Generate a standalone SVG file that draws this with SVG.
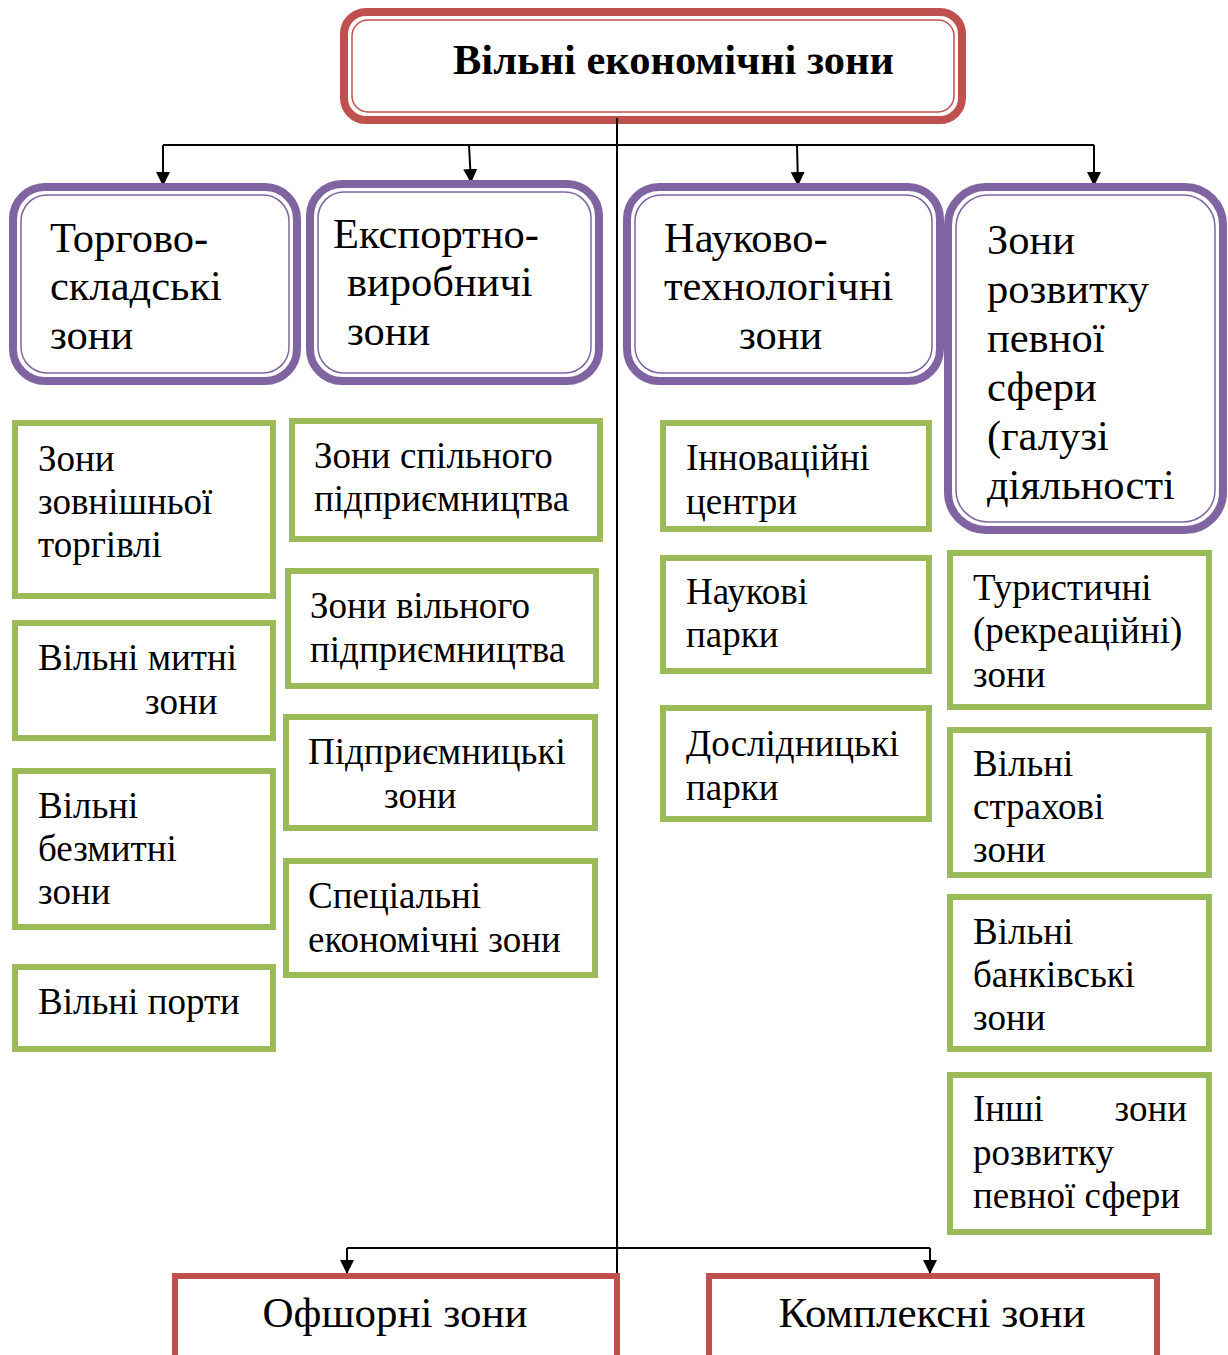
<svg xmlns="http://www.w3.org/2000/svg" width="1228" height="1355" viewBox="0 0 1228 1355">
  <style>
    text { font-family: "Liberation Serif", "Times New Roman", serif; fill: #000; }
    .title { font-size: 42.5px; font-weight: bold; }
    .cat { font-size: 42.5px; }
    .item { font-size: 37px; }
    .big { font-size: 43px; }
    .red-o { fill: #fff; stroke: #C0504D; stroke-width: 8; }
    .red-i { fill: none; stroke: #C0504D; stroke-width: 1.5; }
    .pur-o { fill: #fff; stroke: #8064A2; stroke-width: 8; }
    .pur-i { fill: none; stroke: #8064A2; stroke-width: 1.5; }
    .grn { fill: #fff; stroke: #9BBB59; stroke-width: 6; }
    .redbox { fill: #fff; stroke: #C0504D; stroke-width: 6; }
    .line { fill: none; stroke: #000; stroke-width: 2; }
  </style>
  <defs>
    <marker id="arrow" viewBox="0 0 10 10" refX="10" refY="5" markerWidth="14" markerHeight="14" markerUnits="userSpaceOnUse" orient="auto">
      <path d="M0,0 L10,5 L0,10 z" fill="#000"/>
    </marker>
  </defs>

  <rect width="1228" height="1355" fill="#fff"/>

  <!-- root -->
  <g id="root">
    <rect class="red-o" x="344" y="12" width="618" height="108" rx="22"/>
    <rect class="red-i" x="352" y="20" width="602" height="92" rx="16"/>
    <text class="title" x="453" y="74">Вільні економічні зони</text>
  </g>

  <!-- connectors -->
  <g id="connectors">
    <line class="line" x1="617" y1="118" x2="617" y2="1286"/>
    <line class="line" x1="163" y1="145" x2="1094" y2="145"/>
    <line class="line" x1="163" y1="145" x2="163" y2="186" marker-end="url(#arrow)"/>
    <line class="line" x1="469" y1="145" x2="471" y2="183" marker-end="url(#arrow)"/>
    <line class="line" x1="797" y1="145" x2="798" y2="186" marker-end="url(#arrow)"/>
    <line class="line" x1="1094" y1="145" x2="1094" y2="186" marker-end="url(#arrow)"/>
    <line class="line" x1="347" y1="1248" x2="930" y2="1248"/>
    <line class="line" x1="347" y1="1248" x2="347" y2="1274" marker-end="url(#arrow)"/>
    <line class="line" x1="930" y1="1248" x2="930" y2="1274" marker-end="url(#arrow)"/>
  </g>

  <!-- categories -->
  <g id="trade">
    <rect class="pur-o" x="13" y="187" width="284" height="194" rx="32"/>
    <rect class="pur-i" x="21" y="195" width="268" height="178" rx="26"/>
    <text class="cat" x="50" y="252">Торгово-</text>
    <text class="cat" x="50" y="300">складські</text>
    <text class="cat" x="50" y="349">зони</text>
  </g>
  <g id="export">
    <rect class="pur-o" x="310" y="184" width="289" height="197" rx="32"/>
    <rect class="pur-i" x="318" y="192" width="273" height="181" rx="26"/>
    <text class="cat" x="333" y="248">Експортно-</text>
    <text class="cat" x="347" y="296">виробничі</text>
    <text class="cat" x="347" y="345">зони</text>
  </g>
  <g id="science">
    <rect class="pur-o" x="627" y="187" width="313" height="194" rx="32"/>
    <rect class="pur-i" x="635" y="195" width="297" height="178" rx="26"/>
    <text class="cat" x="664" y="252">Науково-</text>
    <text class="cat" x="664" y="300">технологічні</text>
    <text class="cat" x="739" y="349">зони</text>
  </g>
  <g id="sector">
    <rect class="pur-o" x="948" y="187" width="275" height="343" rx="38"/>
    <rect class="pur-i" x="956" y="195" width="259" height="327" rx="32"/>
    <text class="cat" x="987" y="254">Зони</text>
    <text class="cat" x="987" y="303">розвитку</text>
    <text class="cat" x="987" y="352">певної</text>
    <text class="cat" x="987" y="401">сфери</text>
    <text class="cat" x="987" y="450">(галузі</text>
    <text class="cat" x="987" y="499">діяльності</text>
  </g>

  <!-- column 1 -->
  <g id="foreign-trade">
    <rect class="grn" x="15" y="423" width="258" height="173"/>
    <text class="item" x="38" y="471">Зони</text>
    <text class="item" x="38" y="514">зовнішньої</text>
    <text class="item" x="38" y="557">торгівлі</text>
  </g>
  <g id="free-customs">
    <rect class="grn" x="15" y="623" width="258" height="115"/>
    <text class="item" x="38" y="670">Вільні митні</text>
    <text class="item" x="145" y="714">зони</text>
  </g>
  <g id="duty-free">
    <rect class="grn" x="15" y="771" width="258" height="156"/>
    <text class="item" x="38" y="818">Вільні</text>
    <text class="item" x="38" y="861">безмитні</text>
    <text class="item" x="38" y="904">зони</text>
  </g>
  <g id="free-ports">
    <rect class="grn" x="15" y="967" width="258" height="82"/>
    <text class="item" x="38" y="1014">Вільні порти</text>
  </g>

  <!-- column 2 -->
  <g id="joint-enterprise">
    <rect class="grn" x="292" y="421" width="308" height="118"/>
    <text class="item" x="314" y="468">Зони спільного</text>
    <text class="item" x="314" y="511">підприємництва</text>
  </g>
  <g id="free-enterprise">
    <rect class="grn" x="288" y="571" width="308" height="115"/>
    <text class="item" x="310" y="618">Зони вільного</text>
    <text class="item" x="310" y="662">підприємництва</text>
  </g>
  <g id="enterprise">
    <rect class="grn" x="286" y="717" width="309" height="111"/>
    <text class="item" x="308" y="764">Підприємницькі</text>
    <text class="item" x="384" y="808">зони</text>
  </g>
  <g id="special">
    <rect class="grn" x="286" y="861" width="309" height="114"/>
    <text class="item" x="308" y="908">Спеціальні</text>
    <text class="item" x="308" y="952">економічні зони</text>
  </g>

  <!-- column 3 -->
  <g id="innovation">
    <rect class="grn" x="663" y="423" width="266" height="106"/>
    <text class="item" x="686" y="470">Інноваційні</text>
    <text class="item" x="686" y="514">центри</text>
  </g>
  <g id="science-parks">
    <rect class="grn" x="663" y="558" width="266" height="113"/>
    <text class="item" x="686" y="604">Наукові</text>
    <text class="item" x="686" y="647">парки</text>
  </g>
  <g id="research-parks">
    <rect class="grn" x="663" y="708" width="266" height="111"/>
    <text class="item" x="686" y="756">Дослідницькі</text>
    <text class="item" x="686" y="800">парки</text>
  </g>

  <!-- column 4 -->
  <g id="tourist">
    <rect class="grn" x="950" y="553" width="259" height="154"/>
    <text class="item" x="973" y="600">Туристичні</text>
    <text class="item" x="973" y="643">(рекреаційні)</text>
    <text class="item" x="973" y="687">зони</text>
  </g>
  <g id="insurance">
    <rect class="grn" x="950" y="730" width="259" height="145"/>
    <text class="item" x="973" y="776">Вільні</text>
    <text class="item" x="973" y="819">страхові</text>
    <text class="item" x="973" y="862">зони</text>
  </g>
  <g id="banking">
    <rect class="grn" x="950" y="897" width="259" height="152"/>
    <text class="item" x="973" y="944">Вільні</text>
    <text class="item" x="973" y="987">банківські</text>
    <text class="item" x="973" y="1030">зони</text>
  </g>
  <g id="other">
    <rect class="grn" x="950" y="1075" width="259" height="157"/>
    <text class="item" x="973" y="1121">Інші</text>
    <text class="item" x="1187" y="1121" text-anchor="end">зони</text>
    <text class="item" x="973" y="1165">розвитку</text>
    <text class="item" x="973" y="1208">певної сфери</text>
  </g>

  <!-- bottom row -->
  <g id="offshore">
    <rect class="redbox" x="175" y="1276" width="442" height="100"/>
    <text class="big" x="395" y="1327" text-anchor="middle">Офшорні зони</text>
  </g>
  <g id="complex">
    <rect class="redbox" x="709" y="1276" width="448" height="100"/>
    <text class="big" x="932" y="1327" text-anchor="middle">Комплексні зони</text>
  </g>
</svg>
